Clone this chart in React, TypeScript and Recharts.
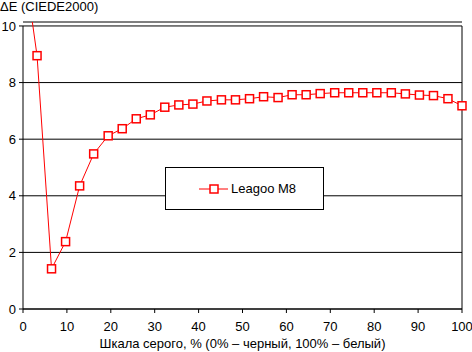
import { LineChart, Line, XAxis, YAxis, CartesianGrid, ReferenceLine, Legend } from 'recharts'

// gray level, % (32 steps from black to white)
const GRAY_LEVELS = [
  0, 3.2, 6.5, 9.7, 12.9, 16.1, 19.4, 22.6, 25.8, 29.0, 32.3, 35.5, 38.7, 41.9, 45.2, 48.4,
  51.6, 54.8, 58.1, 61.3, 64.5, 67.7, 71.0, 74.2, 77.4, 80.6, 83.9, 87.1, 90.3, 93.5, 96.8, 100,
]
const DELTA_E = [
  12.5, 8.95, 1.42, 2.38, 4.35, 5.48, 6.12, 6.37, 6.72, 6.86, 7.13, 7.21, 7.24, 7.35, 7.39, 7.39,
  7.43, 7.5, 7.47, 7.57, 7.57, 7.61, 7.64, 7.64, 7.64, 7.64, 7.64, 7.6, 7.56, 7.54, 7.43, 7.18,
]
const X_TICKS = [0, 10, 20, 30, 40, 50, 60, 70, 80, 90, 100]
const Y_TICKS = [0, 2, 4, 6, 8, 10]

const SERIES_NAME = 'Leagoo M8'
const X_LABEL = 'Шкала серого, % (0% – черный, 100% – белый)'
const Y_TITLE = 'ΔE (CIEDE2000)'

const RED = '#ff0000'
const FONT = 'Arial, "Liberation Sans", sans-serif'

const data = GRAY_LEVELS.map((x, i) => ({ x, de: DELTA_E[i] }))

function SquareDot(props: { cx?: number; cy?: number; index?: number }) {
  const { cx, cy, index } = props
  if (cx == null || cy == null || isNaN(cx) || isNaN(cy)) return null
  return (
    <rect key={index} x={cx - 4} y={cy - 4} width={8} height={8}
      fill="#fff" stroke={RED} strokeWidth={1.5} />
  )
}

function LegendBox() {
  return (
    <div style={{
      width: '100%', height: '100%', boxSizing: 'border-box',
      border: '1px solid #000', background: '#fff',
      display: 'flex', alignItems: 'center', paddingLeft: 33,
      fontFamily: FONT, fontSize: 13, color: '#000',
    }}>
      <svg width={30} height={10} style={{ display: 'block' }}>
        <line x1={0} y1={5} x2={29} y2={5} stroke={RED} strokeWidth={1} />
        <rect x={11} y={1} width={8} height={8} fill="#fff" stroke={RED} strokeWidth={1.5} />
      </svg>
      <span style={{ marginLeft: 2 }}>{SERIES_NAME}</span>
    </div>
  )
}

export default function App() {
  const tick = { fill: '#000', fontSize: 13, fontFamily: FONT }
  return (
    <div style={{ position: 'absolute', left: 0, top: 0, width: 472, height: 352, background: '#fff', fontFamily: FONT }}>
      <div style={{ position: 'absolute', left: 0, top: 0, fontSize: 13, lineHeight: '13px', color: '#000', whiteSpace: 'nowrap' }}>
        {Y_TITLE}
      </div>
      <LineChart width={472} height={352} data={data} margin={{ top: 22, right: 10, left: 0, bottom: 0 }}>
        <CartesianGrid horizontal vertical={false} stroke="#000" strokeWidth={1} />
        <XAxis
          dataKey="x" type="number" domain={[0, 100]} ticks={X_TICKS}
          height={43} tick={tick} tickSize={4} tickMargin={9}
          stroke="#000" tickLine={{ stroke: '#000' }} axisLine={{ stroke: '#000' }}
          label={{ value: X_LABEL, position: 'insideBottom', offset: 4, fill: '#000', fontSize: 13, fontFamily: FONT }}
        />
        <YAxis
          type="number" domain={[0, 10.14]} ticks={Y_TICKS} allowDataOverflow
          width={23} tick={tick} tickSize={4} tickMargin={3}
          axisLine={false} tickLine={{ stroke: '#000' }}
        />
        <ReferenceLine segment={[{ x: 0, y: 0 }, { x: 0, y: 10 }]} stroke="#000" ifOverflow="visible" />
        <ReferenceLine segment={[{ x: 100, y: 0 }, { x: 100, y: 10 }]} stroke="#000" ifOverflow="visible" />
        <Line
          dataKey="de" name={SERIES_NAME} stroke={RED} strokeWidth={1}
          dot={<SquareDot />} activeDot={false} isAnimationActive={false}
        />
        <Legend
          layout="vertical" verticalAlign="middle" align="center"
          content={() => <LegendBox />}
          wrapperStyle={{ position: 'absolute', left: 165, top: 167, width: 159, height: 43 }}
        />
      </LineChart>
    </div>
  )
}
